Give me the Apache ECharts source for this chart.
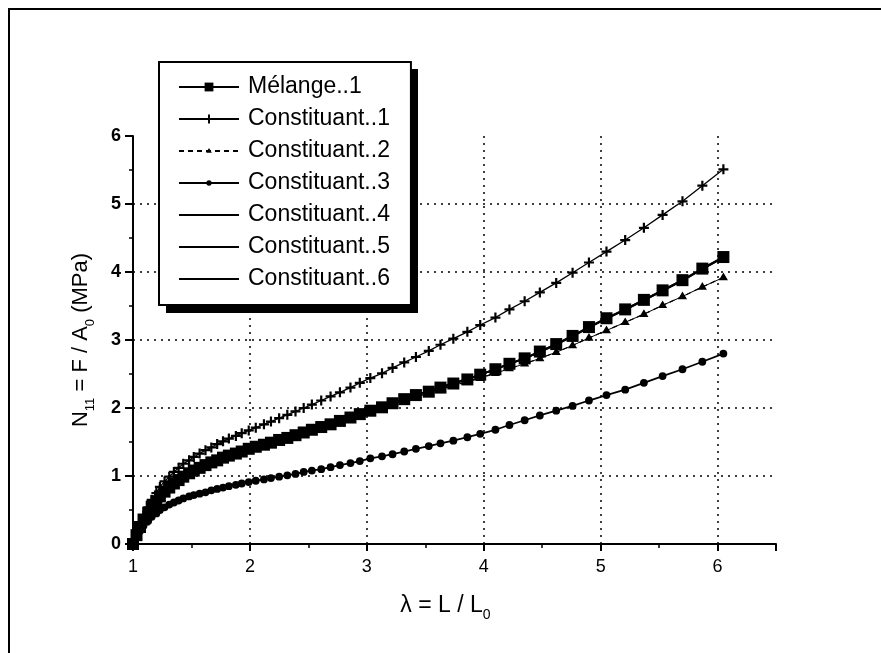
<!DOCTYPE html>
<html><head><meta charset="utf-8">
<script src="https://cdn.jsdelivr.net/npm/echarts/dist/echarts.min.js"></script>
<style>html,body{margin:0;padding:0;background:#fff}#c{width:881px;height:653px}</style>
</head><body><div id="c"></div>
<script>
// stretch ratio (x) shared by all series
const lambda = [1.00,1.03,1.06,1.09,1.13,1.16,1.20,1.23,1.27,1.31,1.35,1.39,1.43,1.48,1.52,1.57,1.62,1.67,1.72,1.77,1.82,1.88,1.93,1.99,2.05,2.12,2.18,2.25,2.32,2.39,2.46,2.53,2.61,2.69,2.77,2.86,2.94,3.03,3.13,3.22,3.32,3.42,3.53,3.63,3.74,3.86,3.97,4.10,4.22,4.35,4.48,4.62,4.76,4.90,5.05,5.21,5.37,5.53,5.70,5.87,6.05];
const melange1 = [0,0.13,0.25,0.36,0.46,0.55,0.63,0.70,0.77,0.83,0.89,0.94,0.99,1.04,1.08,1.12,1.16,1.20,1.23,1.27,1.30,1.33,1.36,1.40,1.43,1.46,1.49,1.53,1.56,1.60,1.64,1.68,1.72,1.76,1.81,1.86,1.91,1.96,2.01,2.07,2.13,2.19,2.24,2.30,2.36,2.42,2.49,2.57,2.65,2.73,2.83,2.94,3.06,3.19,3.32,3.45,3.59,3.73,3.88,4.05,4.22];
const constituant1 = [0,0.15,0.29,0.42,0.54,0.65,0.75,0.84,0.92,0.99,1.06,1.12,1.18,1.23,1.28,1.33,1.38,1.42,1.47,1.51,1.55,1.59,1.63,1.67,1.71,1.76,1.80,1.85,1.90,1.95,2.00,2.05,2.11,2.17,2.23,2.30,2.37,2.44,2.51,2.59,2.67,2.75,2.84,2.93,3.02,3.12,3.22,3.33,3.45,3.57,3.70,3.84,3.99,4.14,4.30,4.47,4.65,4.84,5.04,5.27,5.51];
const constituant2 = [0,0.12,0.24,0.35,0.45,0.54,0.62,0.69,0.76,0.82,0.87,0.92,0.97,1.01,1.05,1.09,1.13,1.17,1.21,1.25,1.28,1.31,1.34,1.38,1.41,1.44,1.47,1.51,1.54,1.58,1.62,1.66,1.70,1.74,1.79,1.84,1.89,1.94,1.99,2.04,2.10,2.16,2.21,2.27,2.33,2.38,2.44,2.51,2.58,2.65,2.73,2.82,2.92,3.03,3.14,3.26,3.38,3.51,3.64,3.78,3.92];
const constituant3 = [0,0.10,0.19,0.27,0.34,0.40,0.45,0.50,0.54,0.58,0.61,0.64,0.67,0.70,0.72,0.74,0.76,0.79,0.81,0.83,0.85,0.87,0.89,0.91,0.93,0.95,0.97,0.99,1.01,1.03,1.06,1.08,1.10,1.13,1.16,1.19,1.22,1.26,1.29,1.32,1.36,1.40,1.44,1.48,1.52,1.57,1.62,1.68,1.75,1.82,1.89,1.96,2.03,2.11,2.19,2.27,2.37,2.47,2.57,2.68,2.80];
const constituant4 = [0,0.13,0.26,0.37,0.47,0.56,0.64,0.71,0.78,0.84,0.90,0.95,1.00,1.05,1.09,1.13,1.17,1.21,1.24,1.28,1.31,1.34,1.37,1.41,1.44,1.47,1.50,1.54,1.57,1.61,1.65,1.69,1.73,1.77,1.82,1.87,1.92,1.97,2.02,2.08,2.13,2.19,2.25,2.31,2.37,2.43,2.49,2.57,2.65,2.73,2.82,2.93,3.05,3.18,3.31,3.44,3.58,3.72,3.87,4.04,4.21];
const constituant5 = [0,0.12,0.24,0.35,0.45,0.54,0.62,0.69,0.76,0.82,0.88,0.93,0.98,1.02,1.06,1.10,1.14,1.18,1.22,1.25,1.29,1.32,1.35,1.38,1.41,1.45,1.48,1.51,1.55,1.59,1.63,1.67,1.71,1.75,1.80,1.85,1.90,1.95,2.00,2.05,2.11,2.16,2.22,2.28,2.33,2.39,2.45,2.51,2.58,2.65,2.73,2.82,2.92,3.03,3.14,3.26,3.38,3.51,3.64,3.78,3.92];
const constituant6 = [0,0.13,0.25,0.36,0.46,0.55,0.63,0.70,0.77,0.83,0.89,0.94,0.99,1.03,1.07,1.11,1.15,1.19,1.22,1.26,1.29,1.33,1.36,1.40,1.43,1.46,1.49,1.53,1.56,1.60,1.64,1.68,1.72,1.76,1.81,1.86,1.91,1.96,2.01,2.07,2.13,2.19,2.24,2.30,2.36,2.42,2.49,2.57,2.65,2.73,2.83,2.94,3.06,3.19,3.32,3.45,3.59,3.73,3.88,4.05,4.22];
const seriesNames = ['Mélange..1','Constituant..1','Constituant..2','Constituant..3','Constituant..4','Constituant..5','Constituant..6'];
const xTickLabels = ['1','2','3','4','5','6'];
const yTickLabels = ['0','1','2','3','4','5','6'];

const PLUS = 'path://M3.9,0h2.2v3.9h3.9v2.2h-3.9v3.9h-2.2v-3.9h-3.9v-2.2h3.9z';
const TRI = 'path://M0,0h0.01v0.01h-0.01z M19.99,19.99h0.01v0.01h-0.01z M10,3L16.5,14H3.5z';
const DOT = 'path://M0,0h0.01v0.01h-0.01z M19.99,19.99h0.01v0.01h-0.01z M4,10a6,6 0 1,0 12,0a6,6 0 1,0 -12,0z';

function mk(name, vals, symbol, size, lw, ltype, z) {
  return {
    type: 'line', name: name,
    data: lambda.map((x, i) => [x, vals[i]]),
    symbol: symbol, symbolSize: size, showSymbol: symbol !== 'none',
    lineStyle: {color: '#000', width: lw, type: ltype},
    itemStyle: {color: '#000'},
    z: z, animation: false, silent: true
  };
}

const chart = echarts.init(document.getElementById('c'), null, {renderer: 'canvas'});
const axisFont = {fontFamily: 'Liberation Sans Narrow, Liberation Sans, Arial', fontWeight: 'bold', fontSize: 18, color: '#000'};
chart.setOption({
  backgroundColor: '#fff',
  animation: false,
  grid: {left: 133, right: 105, top: 136, bottom: 109, containLabel: false},
  graphic: [
    {type: 'line', shape: {x1: 8, y1: 9, x2: 881, y2: 9}, style: {stroke: '#000', lineWidth: 2}},
    {type: 'line', shape: {x1: 9, y1: 8, x2: 9, y2: 653}, style: {stroke: '#000', lineWidth: 2}},
    {type: 'rect', z: 1, shape: {x: 166, y: 69, width: 252, height: 244}, style: {fill: '#000'}}
  ],
  xAxis: {
    type: 'value', min: 1, max: 6.5, interval: 1,
    axisLine: {show: true, onZero: false, lineStyle: {color: '#000', width: 2}},
    axisTick: {show: true, length: 7, lineStyle: {color: '#000', width: 2}},
    minorTick: {show: true, splitNumber: 2, length: 4, lineStyle: {color: '#000', width: 1.5}},
    axisLabel: Object.assign({margin: 14, showMaxLabel: false,
      formatter: v => xTickLabels.indexOf(String(v)) >= 0 ? String(v) : ''}, axisFont, {fontWeight: 'normal'}),
    splitLine: {show: true, showMinLine: false, showMaxLine: false, lineStyle: {color: '#000', width: 1.5, type: [2, 5]}},
    name: '{a|λ = L / L}{s|0}', nameLocation: 'middle', nameGap: 45,
    nameTextStyle: {padding: [0, 18, 0, 0], rich: {
      a: {fontFamily: 'Liberation Sans, Arial', fontSize: 23, color: '#000', lineHeight: 24},
      s: {fontFamily: 'Liberation Sans, Arial', fontSize: 14, color: '#000', lineHeight: 33, verticalAlign: 'bottom'}
    }}
  },
  yAxis: {
    type: 'value', min: 0, max: 6, interval: 1,
    axisLine: {show: true, lineStyle: {color: '#000', width: 2}},
    axisTick: {show: true, length: 8, lineStyle: {color: '#000', width: 2}},
    minorTick: {show: true, splitNumber: 2, length: 4, lineStyle: {color: '#000', width: 1.5}},
    axisLabel: Object.assign({margin: 12,
      formatter: v => yTickLabels.indexOf(String(v)) >= 0 ? String(v) : ''}, axisFont),
    splitLine: {show: true, showMinLine: false, showMaxLine: false, lineStyle: {color: '#000', width: 1.5, type: [2, 5]}},
    name: '{a|N}{s|11}{a| = F / A}{s|0}{a| (MPa)}', nameLocation: 'middle', nameGap: 36, nameRotate: 90,
    nameTextStyle: {rich: {
      a: {fontFamily: 'Liberation Sans, Arial', fontSize: 22, color: '#000', lineHeight: 24},
      s: {fontFamily: 'Liberation Sans, Arial', fontSize: 13, color: '#000', lineHeight: 33, verticalAlign: 'bottom'}
    }}
  },
  legend: {
    orient: 'vertical', left: 159, top: 62, z: 5,
    itemWidth: 60, itemHeight: 11, itemGap: 8,
    padding: [13, 21, 14, 19],
    backgroundColor: '#fff', borderColor: '#000', borderWidth: 2, borderRadius: 0,
    selectedMode: false,
    textStyle: {fontFamily: 'Liberation Sans, Arial', fontSize: 23, color: '#000', lineHeight: 24, padding: [0, 0, 0, 4]},
    data: [
      {name: seriesNames[0]}, {name: seriesNames[1]}, {name: seriesNames[2]}, {name: seriesNames[3]},
      {name: seriesNames[4], itemStyle: {opacity: 0}},
      {name: seriesNames[5], itemStyle: {opacity: 0}},
      {name: seriesNames[6], itemStyle: {opacity: 0}}
    ]
  },
  series: [
    mk(seriesNames[4], constituant4, 'none', 0, 1.5, 'solid', 2),
    mk(seriesNames[5], constituant5, 'none', 0, 1, 'solid', 2),
    mk(seriesNames[6], constituant6, 'none', 0, 2, 'solid', 2),
    mk(seriesNames[3], constituant3, DOT, 13, 1.8, 'solid', 3),
    mk(seriesNames[0], melange1, 'rect', 12, 1.8, 'solid', 4),
    mk(seriesNames[2], constituant2, TRI, 14, 1.2, [5, 4], 5),
    mk(seriesNames[1], constituant1, PLUS, 10, 1.3, 'solid', 6)
  ]
});
</script></body></html>
